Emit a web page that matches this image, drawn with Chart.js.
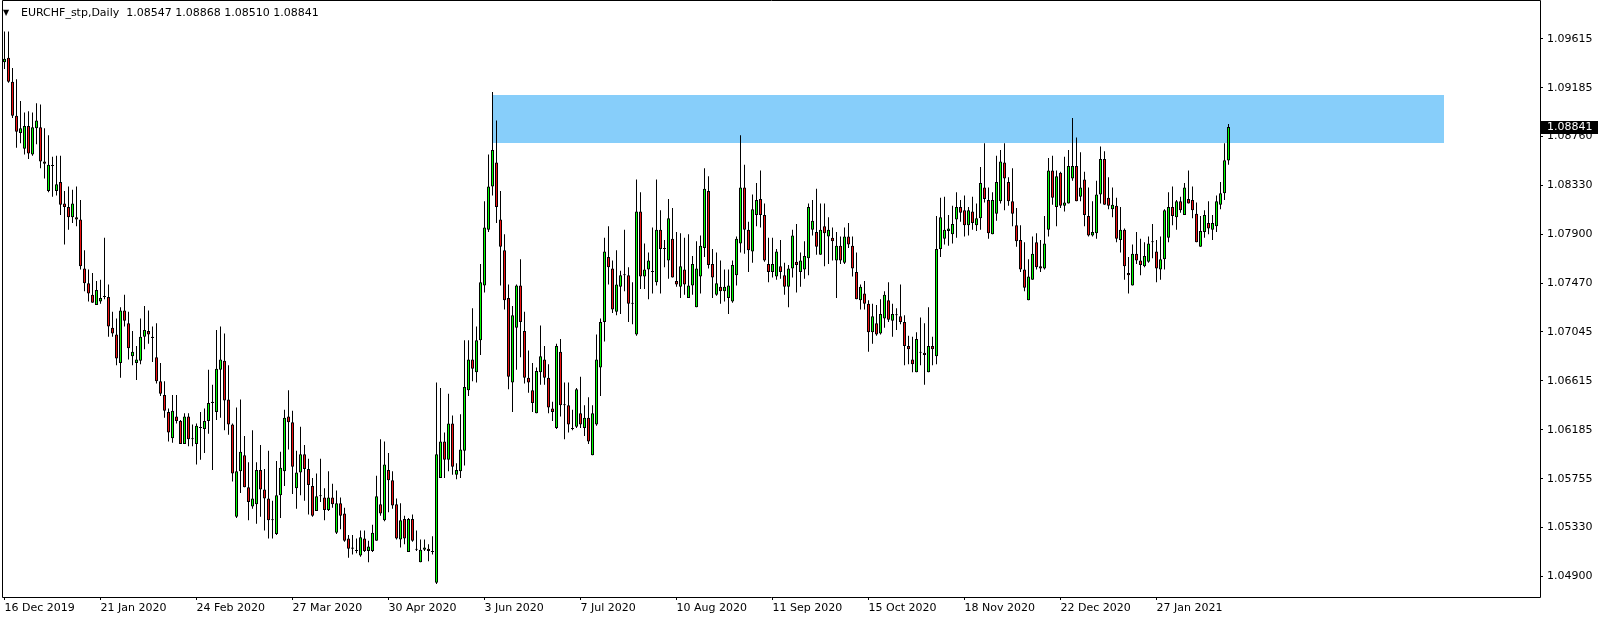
<!DOCTYPE html>
<html>
<head>
<meta charset="utf-8">
<title>EURCHF_stp,Daily</title>
<script src="https://cdn.jsdelivr.net/npm/chart.js@4/dist/chart.umd.min.js"></script>
<style>
  html, body { margin: 0; padding: 0; background: #fff; }
  #wrap { width: 1604px; height: 620px; }
</style>
</head>
<body>
<div id="wrap"><canvas id="chart" width="1604" height="620"></canvas></div>
<script>
const symbol = 'EURCHF_stp';
const period = 'Daily';

// one bar per trading day, starting 16 Dec 2019
const opens = [
  1.0941, 1.0945, 1.0924, 1.0894, 1.0879, 1.0865, 1.0885, 1.0860, 1.0883, 1.0884,
  1.0854, 1.0828, 1.0850, 1.0828, 1.0836, 1.0817, 1.0814, 1.0805, 1.0805, 1.0803,
  1.0760, 1.0747, 1.0737, 1.0728, 1.0731, 1.0735, 1.0735, 1.0708, 1.0702, 1.0677,
  1.0723, 1.0712, 1.0683, 1.0677, 1.0679, 1.0700, 1.0705, 1.0700, 1.0682, 1.0661,
  1.0649, 1.0634, 1.0611, 1.0630, 1.0626, 1.0606, 1.0630, 1.0611, 1.0606, 1.0620,
  1.0619, 1.0626, 1.0642, 1.0634, 1.0671, 1.0679, 1.0645, 1.0623, 1.0542, 1.0582,
  1.0596, 1.0568, 1.0551, 1.0553, 1.0583, 1.0566, 1.0558, 1.0539, 1.0527, 1.0561,
  1.0582, 1.0630, 1.0625, 1.0567, 1.0581, 1.0597, 1.0584, 1.0569, 1.0547, 1.0560,
  1.0559, 1.0548, 1.0559, 1.0528, 1.0554, 1.0545, 1.0523, 1.0515, 1.0512, 1.0508,
  1.0523, 1.0512, 1.0512, 1.0521, 1.0553, 1.0539, 1.0583, 1.0574, 1.0553, 1.0522,
  1.0540, 1.0511, 1.0540, 1.0513, 1.0502, 1.0513, 1.0514, 1.0511, 1.0484, 1.0576,
  1.0608, 1.0592, 1.0624, 1.0579, 1.0582, 1.0600, 1.0653, 1.0680, 1.0669, 1.0697,
  1.0745, 1.0794, 1.0832, 1.0853, 1.0803, 1.0776, 1.0734, 1.0660, 1.0708, 1.0745,
  1.0705, 1.0664, 1.0653, 1.0633, 1.0669, 1.0680, 1.0664, 1.0637, 1.0620, 1.0687,
  1.0640, 1.0640, 1.0619, 1.0621, 1.0633, 1.0620, 1.0629, 1.0596, 1.0623, 1.0673,
  1.0713, 1.0770, 1.0760, 1.0722, 1.0744, 1.0754, 1.0754, 1.0729, 1.0702, 1.0810,
  1.0753, 1.0759, 1.0757, 1.0748, 1.0794, 1.0777, 1.0767, 1.0786, 1.0749, 1.0744,
  1.0759, 1.0734, 1.0745, 1.0726, 1.0753, 1.0778, 1.0828, 1.0764, 1.0737, 1.0744,
  1.0740, 1.0734, 1.0731, 1.0754, 1.0782, 1.0831, 1.0794, 1.0775, 1.0807, 1.0821,
  1.0807, 1.0764, 1.0757, 1.0753, 1.0762, 1.0754, 1.0744, 1.0760, 1.0766, 1.0757,
  1.0759, 1.0769, 1.0794, 1.0792, 1.0772, 1.0797, 1.0788, 1.0787, 1.0767, 1.0780,
  1.0765, 1.0788, 1.0780, 1.0757, 1.0732, 1.0738, 1.0729, 1.0704, 1.0712, 1.0703,
  1.0716, 1.0732, 1.0714, 1.0719, 1.0718, 1.0713, 1.0692, 1.0680, 1.0669, 1.0686,
  1.0686, 1.0669, 1.0692, 1.0683, 1.0777, 1.0786, 1.0793, 1.0790, 1.0803, 1.0814,
  1.0811, 1.0798, 1.0810, 1.0798, 1.0804, 1.0831, 1.0820, 1.0790, 1.0808, 1.0819,
  1.0853, 1.0836, 1.0819, 1.0798, 1.0785, 1.0759, 1.0732, 1.0750, 1.0783, 1.0762,
  1.0760, 1.0794, 1.0846, 1.0814, 1.0844, 1.0815, 1.0817, 1.0839, 1.0850, 1.0823,
  1.0838, 1.0806, 1.0789, 1.0791, 1.0825, 1.0856, 1.0822, 1.0812, 1.0815, 1.0785,
  1.0794, 1.0756, 1.0745, 1.0773, 1.0767, 1.0762, 1.0766, 1.0783, 1.0775, 1.0759,
  1.0768, 1.0787, 1.0814, 1.0805, 1.0819, 1.0807, 1.0821, 1.0820, 1.0808, 1.0779,
  1.0792, 1.0800, 1.0794, 1.0797, 1.0816, 1.0826, 1.08547
];
const highs = [
  1.0968, 1.0968, 1.0936, 1.0926, 1.0907, 1.0897, 1.0898, 1.0897, 1.0905, 1.0904,
  1.0883, 1.0877, 1.0858, 1.0859, 1.0859, 1.0828, 1.0832, 1.0829, 1.0832, 1.0820,
  1.0776, 1.0759, 1.0756, 1.0749, 1.0750, 1.0787, 1.0746, 1.0722, 1.0716, 1.0726,
  1.0737, 1.0722, 1.0705, 1.0692, 1.0716, 1.0727, 1.0723, 1.0709, 1.0712, 1.0677,
  1.0661, 1.0637, 1.0649, 1.0649, 1.0627, 1.0633, 1.0633, 1.0623, 1.0624, 1.0634,
  1.0637, 1.0671, 1.0658, 1.0706, 1.0709, 1.0703, 1.0675, 1.0624, 1.0638, 1.0645,
  1.0613, 1.0590, 1.0618, 1.0590, 1.0605, 1.0584, 1.0600, 1.0556, 1.0591, 1.0599,
  1.0636, 1.0653, 1.0635, 1.0600, 1.0621, 1.0605, 1.0593, 1.0576, 1.0580, 1.0593,
  1.0567, 1.0582, 1.0571, 1.0565, 1.0559, 1.0550, 1.0526, 1.0526, 1.0523, 1.0530,
  1.0530, 1.0521, 1.0535, 1.0578, 1.0610, 1.0608, 1.0598, 1.0582, 1.0558, 1.0554,
  1.0543, 1.0541, 1.0544, 1.0530, 1.0522, 1.0522, 1.0518, 1.0525, 1.0660, 1.0655,
  1.0616, 1.0650, 1.0631, 1.0589, 1.0632, 1.0697, 1.0697, 1.0725, 1.0709, 1.0764,
  1.0819, 1.0860, 1.0915, 1.0890, 1.0828, 1.0790, 1.0746, 1.0727, 1.0746, 1.0768,
  1.0722, 1.0688, 1.0677, 1.0673, 1.0710, 1.0692, 1.0676, 1.0643, 1.0694, 1.0698,
  1.0660, 1.0660, 1.0636, 1.0655, 1.0665, 1.0640, 1.0647, 1.0640, 1.0702, 1.0716,
  1.0787, 1.0797, 1.0767, 1.0776, 1.0758, 1.0794, 1.0761, 1.0748, 1.0838, 1.0827,
  1.0782, 1.0774, 1.0796, 1.0838, 1.0811, 1.0785, 1.0821, 1.0813, 1.0792, 1.0791,
  1.0787, 1.0790, 1.0771, 1.0784, 1.0789, 1.0848, 1.0841, 1.0777, 1.0774, 1.0767,
  1.0759, 1.0759, 1.0767, 1.0788, 1.0877, 1.0851, 1.0801, 1.0825, 1.0835, 1.0846,
  1.0817, 1.0787, 1.0787, 1.0777, 1.0785, 1.0765, 1.0763, 1.0794, 1.0799, 1.0774,
  1.0784, 1.0817, 1.0820, 1.0830, 1.0817, 1.0817, 1.0805, 1.0796, 1.0792, 1.0788,
  1.0796, 1.0800, 1.0788, 1.0774, 1.0746, 1.0749, 1.0732, 1.0729, 1.0728, 1.0733,
  1.0740, 1.0748, 1.0729, 1.0725, 1.0746, 1.0719, 1.0701, 1.0700, 1.0704, 1.0717,
  1.0712, 1.0726, 1.0700, 1.0806, 1.0822, 1.0823, 1.0807, 1.0815, 1.0827, 1.0820,
  1.0824, 1.0814, 1.0823, 1.0817, 1.0849, 1.0870, 1.0831, 1.0827, 1.0859, 1.0864,
  1.0870, 1.0840, 1.0848, 1.0813, 1.0798, 1.0783, 1.0768, 1.0788, 1.0791, 1.0785,
  1.0806, 1.0857, 1.0859, 1.0846, 1.0845, 1.0858, 1.0864, 1.0892, 1.0875, 1.0862,
  1.0845, 1.0831, 1.0819, 1.0837, 1.0867, 1.0863, 1.0840, 1.0831, 1.0822, 1.0814,
  1.0795, 1.0770, 1.0781, 1.0792, 1.0786, 1.0783, 1.0788, 1.0799, 1.0785, 1.0788,
  1.0812, 1.0827, 1.0832, 1.0820, 1.0823, 1.0835, 1.0846, 1.0832, 1.0818, 1.0806,
  1.0811, 1.0819, 1.0807, 1.0824, 1.0836, 1.0870, 1.08868
];
const lows = [
  1.0935, 1.0923, 1.0892, 1.0866, 1.0870, 1.0860, 1.0856, 1.0859, 1.0869, 1.0848,
  1.0839, 1.0827, 1.0823, 1.0824, 1.0807, 1.0781, 1.0794, 1.0800, 1.0797, 1.0759,
  1.0740, 1.0731, 1.0730, 1.0728, 1.0729, 1.0733, 1.0700, 1.0700, 1.0675, 1.0664,
  1.0709, 1.0680, 1.0675, 1.0662, 1.0676, 1.0689, 1.0694, 1.0678, 1.0659, 1.0648,
  1.0629, 1.0608, 1.0607, 1.0624, 1.0606, 1.0606, 1.0604, 1.0604, 1.0588, 1.0592,
  1.0598, 1.0615, 1.0583, 1.0627, 1.0629, 1.0618, 1.0614, 1.0573, 1.0541, 1.0563,
  1.0568, 1.0539, 1.0549, 1.0536, 1.0542, 1.0530, 1.0523, 1.0523, 1.0526, 1.0541,
  1.0569, 1.0601, 1.0562, 1.0549, 1.0561, 1.0556, 1.0544, 1.0542, 1.0547, 1.0555,
  1.0539, 1.0547, 1.0550, 1.0527, 1.0531, 1.0520, 1.0506, 1.0509, 1.0510, 1.0507,
  1.0511, 1.0502, 1.0511, 1.0521, 1.0543, 1.0538, 1.0546, 1.0549, 1.0522, 1.0515,
  1.0518, 1.0511, 1.0520, 1.0512, 1.0502, 1.0512, 1.0503, 1.0509, 1.0483, 1.0576,
  1.0576, 1.0582, 1.0579, 1.0575, 1.0576, 1.0587, 1.0648, 1.0661, 1.0660, 1.0684,
  1.0739, 1.0792, 1.0824, 1.0800, 1.0745, 1.0724, 1.0654, 1.0634, 1.0671, 1.0682,
  1.0659, 1.0651, 1.0634, 1.0633, 1.0658, 1.0658, 1.0633, 1.0626, 1.0619, 1.0630,
  1.0610, 1.0616, 1.0618, 1.0620, 1.0620, 1.0613, 1.0606, 1.0596, 1.0622, 1.0648,
  1.0696, 1.0746, 1.0721, 1.0719, 1.0720, 1.0740, 1.0713, 1.0711, 1.0701, 1.0742,
  1.0742, 1.0733, 1.0738, 1.0745, 1.0738, 1.0761, 1.0751, 1.0752, 1.0744, 1.0734,
  1.0737, 1.0734, 1.0737, 1.0726, 1.0738, 1.0770, 1.0760, 1.0734, 1.0736, 1.0729,
  1.0731, 1.0720, 1.0730, 1.0745, 1.0774, 1.0773, 1.0757, 1.0765, 1.0797, 1.0796,
  1.0766, 1.0748, 1.0752, 1.0750, 1.0751, 1.0737, 1.0726, 1.0752, 1.0739, 1.0744,
  1.0751, 1.0754, 1.0789, 1.0772, 1.0772, 1.0762, 1.0764, 1.0767, 1.0734, 1.0764,
  1.0764, 1.0778, 1.0753, 1.0733, 1.0724, 1.0724, 1.0687, 1.0694, 1.0701, 1.0702,
  1.0708, 1.0713, 1.0700, 1.0706, 1.0711, 1.0675, 1.0676, 1.0669, 1.0669, 1.0675,
  1.0658, 1.0669, 1.0675, 1.0676, 1.0770, 1.0781, 1.0780, 1.0782, 1.0787, 1.0801,
  1.0788, 1.0789, 1.0794, 1.0793, 1.0794, 1.0818, 1.0786, 1.0790, 1.0802, 1.0817,
  1.0811, 1.0815, 1.0797, 1.0779, 1.0757, 1.0740, 1.0732, 1.0750, 1.0759, 1.0757,
  1.0759, 1.0788, 1.0816, 1.0797, 1.0813, 1.0810, 1.0817, 1.0837, 1.0819, 1.0819,
  1.0797, 1.0788, 1.0788, 1.0786, 1.0817, 1.0816, 1.0812, 1.0805, 1.0783, 1.0774,
  1.0750, 1.0738, 1.0745, 1.0764, 1.0754, 1.0761, 1.0765, 1.0769, 1.0748, 1.0750,
  1.0759, 1.0783, 1.0798, 1.0794, 1.0809, 1.0807, 1.0817, 1.0804, 1.0783, 1.0779,
  1.0787, 1.0790, 1.0785, 1.0792, 1.0812, 1.0820, 1.08510
];
const closes = [
  1.0944, 1.0924, 1.0894, 1.0880, 1.0883, 1.0885, 1.0861, 1.0884, 1.0890, 1.0854,
  1.0852, 1.0851, 1.0850, 1.0834, 1.0816, 1.0814, 1.0805, 1.0817, 1.0803, 1.0762,
  1.0747, 1.0738, 1.0730, 1.0741, 1.0734, 1.0735, 1.0709, 1.0703, 1.0681, 1.0723,
  1.0714, 1.0690, 1.0687, 1.0680, 1.0700, 1.0706, 1.0702, 1.0699, 1.0661, 1.0650,
  1.0635, 1.0616, 1.0635, 1.0626, 1.0606, 1.0630, 1.0610, 1.0610, 1.0622, 1.0620,
  1.0626, 1.0642, 1.0643, 1.0672, 1.0680, 1.0644, 1.0623, 1.0580, 1.0582, 1.0599,
  1.0568, 1.0555, 1.0558, 1.0583, 1.0566, 1.0558, 1.0539, 1.0539, 1.0561, 1.0585,
  1.0629, 1.0625, 1.0586, 1.0581, 1.0597, 1.0584, 1.0570, 1.0543, 1.0560, 1.0560,
  1.0548, 1.0559, 1.0553, 1.0554, 1.0543, 1.0521, 1.0514, 1.0514, 1.0512, 1.0524,
  1.0512, 1.0516, 1.0528, 1.0560, 1.0545, 1.0588, 1.0574, 1.0552, 1.0523, 1.0539,
  1.0523, 1.0540, 1.0521, 1.0513, 1.0513, 1.0515, 1.0512, 1.0511, 1.0597, 1.0608,
  1.0592, 1.0624, 1.0586, 1.0583, 1.0601, 1.0656, 1.0680, 1.0672, 1.0697, 1.0748,
  1.0796, 1.0832, 1.0864, 1.0814, 1.0779, 1.0732, 1.0665, 1.0719, 1.0745, 1.0713,
  1.0664, 1.0660, 1.0642, 1.0670, 1.0683, 1.0664, 1.0638, 1.0634, 1.0692, 1.0640,
  1.0640, 1.0623, 1.0619, 1.0654, 1.0623, 1.0629, 1.0608, 1.0633, 1.0680, 1.0713,
  1.0775, 1.0761, 1.0724, 1.0746, 1.0754, 1.0754, 1.0729, 1.0729, 1.0810, 1.0753,
  1.0759, 1.0767, 1.0757, 1.0794, 1.0777, 1.0777, 1.0804, 1.0752, 1.0746, 1.0762,
  1.0746, 1.0745, 1.0764, 1.0760, 1.0780, 1.0830, 1.0763, 1.0752, 1.0747, 1.0740,
  1.0744, 1.0745, 1.0763, 1.0786, 1.0831, 1.0794, 1.0776, 1.0812, 1.0820, 1.0807,
  1.0767, 1.0757, 1.0764, 1.0775, 1.0757, 1.0744, 1.0760, 1.0789, 1.0763, 1.0767,
  1.0771, 1.0814, 1.0802, 1.0779, 1.0794, 1.0791, 1.0794, 1.0784, 1.0780, 1.0767,
  1.0788, 1.0781, 1.0760, 1.0733, 1.0744, 1.0729, 1.0704, 1.0718, 1.0702, 1.0720,
  1.0737, 1.0715, 1.0720, 1.0719, 1.0713, 1.0692, 1.0689, 1.0676, 1.0698, 1.0686,
  1.0684, 1.0692, 1.0689, 1.0777, 1.0805, 1.0794, 1.0795, 1.0799, 1.0814, 1.0809,
  1.0798, 1.0811, 1.0800, 1.0804, 1.0835, 1.0821, 1.0791, 1.0820, 1.0836, 1.0854,
  1.0839, 1.0819, 1.0808, 1.0784, 1.0759, 1.0743, 1.0753, 1.0773, 1.0761, 1.0760,
  1.0782, 1.0846, 1.0822, 1.0841, 1.0815, 1.0818, 1.0850, 1.0850, 1.0819, 1.0831,
  1.0807, 1.0789, 1.0792, 1.0825, 1.0856, 1.0816, 1.0815, 1.0816, 1.0786, 1.0794,
  1.0762, 1.0754, 1.0773, 1.0767, 1.0763, 1.0771, 1.0782, 1.0783, 1.0760, 1.0768,
  1.0811, 1.0814, 1.0806, 1.0819, 1.0811, 1.0831, 1.0817, 1.0811, 1.0783, 1.0793,
  1.0807, 1.0795, 1.0800, 1.0819, 1.0826, 1.0855, 1.08841
];

// time axis: a label every 24 bars
const dateTicks = [0, 24, 48, 72, 96, 120, 144, 168, 192, 216, 240, 264, 288];
const dateLabels = ['16 Dec 2019', '21 Jan 2020', '24 Feb 2020', '27 Mar 2020', '30 Apr 2020',
  '3 Jun 2020', '7 Jul 2020', '10 Aug 2020', '11 Sep 2020', '15 Oct 2020',
  '18 Nov 2020', '22 Dec 2020', '27 Jan 2021'];
const priceTicks = [1.04900, 1.05330, 1.05755, 1.06185, 1.06615, 1.07045,
  1.07470, 1.07900, 1.08330, 1.08760, 1.09185, 1.09615];

// resistance zone (bar index from/to, price low/high)
const zoneFrom = 122;
const zoneTo = 359.7;
const zoneLow = 1.0870;
const zoneHigh = 1.0912;

const BULL = '#00ff00';
const BEAR = '#f01010';
const ZONE = '#87cefa';
const FONT = '"DejaVu Sans", Tahoma, sans-serif';

const bodies = opens.map((o, i) => ({ x: i, y: [o, closes[i]] }));
const wicks = lows.map((l, i) => ({ x: i, y: [l, highs[i]] }));
const bodyColors = opens.map((o, i) => closes[i] >= o ? BULL : BEAR);

const zonePlugin = {
  id: 'zone',
  beforeDatasetsDraw(chart) {
    const { ctx, chartArea, scales } = chart;
    const x1 = scales.x.getPixelForValue(zoneFrom);
    const x2 = scales.x.getPixelForValue(zoneTo);
    const y1 = scales.y.getPixelForValue(zoneHigh);
    const y2 = scales.y.getPixelForValue(zoneLow);
    ctx.save();
    ctx.beginPath();
    ctx.rect(chartArea.left, chartArea.top, chartArea.right - chartArea.left, chartArea.bottom - chartArea.top);
    ctx.clip();
    ctx.fillStyle = ZONE;
    ctx.fillRect(Math.round(x1), Math.round(y1), Math.round(x2 - x1), Math.round(y2 - y1));
    ctx.restore();
  }
};

const framePlugin = {
  id: 'frame',
  afterDraw(chart) {
    const { ctx, chartArea, scales } = chart;
    const { left, top, right, bottom } = chartArea;
    ctx.save();
    ctx.strokeStyle = '#000';
    ctx.lineWidth = 1;
    ctx.beginPath();
    ctx.moveTo(left + 0.5, top - 0.5);
    ctx.lineTo(right + 0.5, top - 0.5);
    ctx.lineTo(right + 0.5, bottom + 0.5);
    ctx.lineTo(left + 0.5, bottom + 0.5);
    ctx.closePath();
    ctx.stroke();

    // last price tag
    const last = closes[closes.length - 1];
    const py = Math.round(scales.y.getPixelForValue(last));
    ctx.fillStyle = '#000';
    ctx.fillRect(right + 1, py - 6, 57, 13);
    ctx.fillStyle = '#fff';
    ctx.font = '11px ' + FONT;
    ctx.textBaseline = 'middle';
    ctx.textAlign = 'left';
    ctx.fillText(last.toFixed(5), right + 7, py + 0.5);

    // header: symbol, period and OHLC of the last bar
    const n = closes.length - 1;
    ctx.fillStyle = '#000';
    ctx.font = '8px ' + FONT;
    ctx.fillText('\u25BC', left + 1, 13);
    ctx.font = '11px ' + FONT;
    const ohlc = [opens[n], highs[n], lows[n], closes[n]].map((v) => v.toFixed(5)).join(' ');
    ctx.fillText(symbol + ',' + period + '  ' + ohlc, left + 19, 13);
    ctx.restore();
  }
};

new Chart(document.getElementById('chart'), {
  type: 'bar',
  data: {
    datasets: [
      {
        label: 'body',
        data: bodies,
        backgroundColor: bodyColors,
        borderColor: '#000',
        borderWidth: 1,
        borderSkipped: false,
        inflateAmount: 0,
        minBarLength: 1,
        maxBarThickness: 3,
        barPercentage: 1,
        categoryPercentage: 1,
        grouped: false
      },
      {
        label: 'wick',
        data: wicks,
        backgroundColor: '#000',
        borderWidth: 0,
        inflateAmount: 0,
        maxBarThickness: 1,
        barPercentage: 1,
        categoryPercentage: 1,
        grouped: false
      }
    ]
  },
  options: {
    responsive: false,
    animation: false,
    devicePixelRatio: 1,
    layout: { padding: { left: 2, top: 1, right: 0, bottom: 0 } },
    plugins: {
      legend: { display: false },
      tooltip: { enabled: false }
    },
    scales: {
      x: {
        type: 'linear',
        min: -0.625,
        max: 383.875,
        offset: false,
        afterFit: (s) => { s.height = 23; s.paddingLeft = 0; s.paddingRight = 0; },
        afterBuildTicks: (s) => { s.ticks = dateTicks.map((v) => ({ value: v })); },
        ticks: {
          callback: (v) => dateLabels[dateTicks.indexOf(v)],
          align: 'start',
          autoSkip: false,
          maxRotation: 0,
          minRotation: 0,
          padding: 2,
          color: '#000',
          font: { family: FONT, size: 11 }
        },
        grid: { drawOnChartArea: false, offset: false, tickLength: 3, color: '#000' },
        border: { display: false }
      },
      y: {
        type: 'linear',
        position: 'right',
        min: 1.04716,
        max: 1.09948,
        afterFit: (s) => { s.width = 64; s.paddingTop = 0; s.paddingBottom = 0; },
        afterBuildTicks: (s) => { s.ticks = priceTicks.map((v) => ({ value: v })); },
        ticks: {
          callback: (v) => v.toFixed(5),
          autoSkip: false,
          padding: 4,
          color: '#000',
          font: { family: FONT, size: 11 }
        },
        grid: { drawOnChartArea: false, tickLength: 3, color: '#000' },
        border: { display: false }
      }
    }
  },
  plugins: [zonePlugin, framePlugin]
});
</script>
</body>
</html>
